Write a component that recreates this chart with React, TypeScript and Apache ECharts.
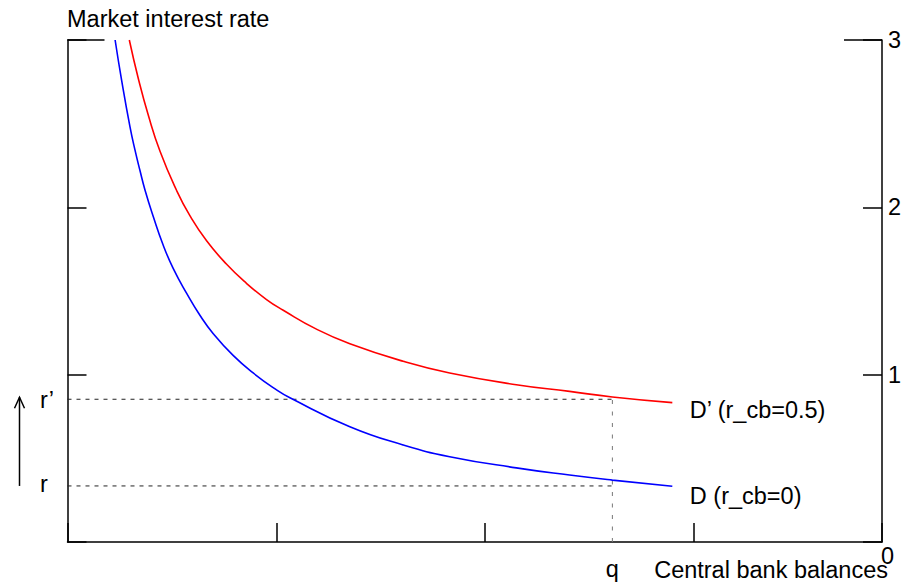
import React, { useEffect, useRef } from "react";
import * as echarts from "echarts";

const FONT = "'Liberation Sans', Arial, Helvetica, sans-serif";
const FS = 23.5;

// D curve (r_cb = 0)
const blueX = [0.228, 0.259, 0.299, 0.323, 0.347, 0.371, 0.411, 0.458, 0.506, 0.57, 0.634, 0.698, 0.793, 0.889, 1.001, 1.065, 1.352, 1.607, 1.83, 2.149, 2.404, 2.609, 2.896];
const blueY = [3.0, 2.76, 2.482, 2.343, 2.22, 2.104, 1.944, 1.775, 1.635, 1.487, 1.355, 1.245, 1.115, 1.01, 0.909, 0.862, 0.689, 0.58, 0.51, 0.443, 0.4, 0.37, 0.333];

// D' curve (r_cb = 0.5)
const redX = [0.296, 0.339, 0.387, 0.443, 0.522, 0.586, 0.666, 0.762, 0.857, 0.953, 1.033, 1.192, 1.352, 1.607, 1.83, 2.149, 2.404, 2.609, 2.896];
const redY = [3.0, 2.77, 2.55, 2.335, 2.102, 1.95, 1.8, 1.66, 1.546, 1.449, 1.385, 1.272, 1.185, 1.08, 1.01, 0.94, 0.9, 0.867, 0.833];

const rValue = 0.335;
const rPrimeValue = 0.853;
const qValue = 2.609;

const xMin = 0;
const xMax = 3.9;
const xInterval = 1;
const yMin = 0;
const yMax = 3;
const yInterval = 1;
const yTicks = [0, 1, 2, 3];
const yTickLabels = ["0", "1", "2", "3"];

const yAxisTitle = "Market interest rate";
const xAxisTitle = "Central bank balances";
const curveLabels = ["D (r_cb=0)", "D\u2019 (r_cb=0.5)"];
const levelLabels = ["r", "r\u2019"];
const qLabel = "q";

function txt(text: string, x: number, y: number, align: string, vAlign = "middle") {
  return {
    type: "text",
    silent: true,
    style: {
      text,
      x,
      y,
      fill: "#000",
      fontSize: FS,
      fontFamily: FONT,
      align,
      textAlign: align,
      verticalAlign: vAlign,
      textVerticalAlign: vAlign,
    },
  };
}

export default function App() {
  const ref = useRef<HTMLDivElement>(null);

  useEffect(() => {
    const chart = echarts.init(ref.current!, null, { renderer: "svg" });
    const axisLine = { show: true, lineStyle: { color: "#000", width: 1.5 } };
    const axisTick = { show: true, inside: true, length: 19, lineStyle: { color: "#000", width: 1.5 } };
    const zip = (xs: number[], ys: number[]) => xs.map((x, i) => [x, ys[i]]);
    const dotted = (data: number[][], color: string, dash: number[]) => ({
      type: "line",
      data,
      showSymbol: false,
      silent: true,
      z: 1,
      lineStyle: { color, width: 1, type: dash },
    });

    chart.setOption({
      animation: false,
      grid: { left: 67.5, right: 37, top: 40, bottom: 43 },
      xAxis: {
        type: "value",
        min: xMin,
        max: xMax,
        interval: xInterval,
        axisLine,
        axisTick,
        axisLabel: { show: false },
        splitLine: { show: false },
      },
      yAxis: [
        {
          type: "value",
          position: "left",
          min: yMin,
          max: yMax,
          interval: yInterval,
          axisLine,
          axisTick,
          axisLabel: { show: false },
          splitLine: { show: false },
        },
        {
          type: "value",
          position: "right",
          min: yMin,
          max: yMax,
          interval: yInterval,
          axisLine,
          axisTick,
          splitLine: { show: false },
          axisLabel: {
            show: true,
            margin: 6,
            color: "#000",
            fontSize: FS,
            fontFamily: FONT,
            verticalAlign: "middle",
            padding: [10, 0, 0, 0],
            formatter: (v: number) => (v === yTicks[0] ? "" : yTickLabels[yTicks.indexOf(v)]),
          },
        },
      ],
      series: [
        dotted([[xMin, rValue], [qValue, rValue]], "#222", [4, 5]),
        dotted([[xMin, rPrimeValue], [qValue, rPrimeValue]], "#222", [4, 5]),
        dotted([[qValue, yMin], [qValue, rPrimeValue]], "#777", [4, 7.5]),
        {
          type: "line",
          data: zip(blueX, blueY),
          showSymbol: false,
          smooth: 0.5,
          z: 3,
          lineStyle: { color: "#0000ff", width: 1.6 },
        },
        {
          type: "line",
          data: zip(redX, redY),
          showSymbol: false,
          smooth: 0.5,
          z: 3,
          lineStyle: { color: "#ff0000", width: 1.6 },
        },
      ],
    });

    const px = (x: number, y: number) =>
      chart.convertToPixel({ xAxisIndex: 0, yAxisIndex: 0 }, [x, y]) as number[];

    const topLeft = px(xMin, yMax);
    const topRight = px(xMax, yMax);
    const origin = px(xMin, yMin);
    const bottomRight = px(xMax, yMin);
    const rPix = px(xMin, rValue);
    const rpPix = px(xMin, rPrimeValue);
    const qPix = px(qValue, yMin);
    const blueEnd = px(blueX[blueX.length - 1], blueY[blueY.length - 1]);
    const redEnd = px(redX[redX.length - 1], redY[redY.length - 1]);
    const arrowX = 19.5;

    chart.setOption({
      graphic: [
        {
          type: "line",
          silent: true,
          shape: { x1: topLeft[0], y1: topLeft[1], x2: topLeft[0] + 37, y2: topLeft[1] },
          style: { stroke: "#000", lineWidth: 1.5 },
        },
        {
          type: "line",
          silent: true,
          shape: { x1: topRight[0] - 38, y1: topRight[1], x2: topRight[0], y2: topRight[1] },
          style: { stroke: "#000", lineWidth: 1.5 },
        },
        {
          type: "line",
          silent: true,
          shape: { x1: arrowX, y1: rPix[1], x2: arrowX, y2: rpPix[1] - 2 },
          style: { stroke: "#000", lineWidth: 1.5 },
        },
        {
          type: "polyline",
          silent: true,
          shape: { points: [[arrowX - 5, rpPix[1] + 9], [arrowX, rpPix[1] - 2], [arrowX + 5, rpPix[1] + 9]] },
          style: { stroke: "#000", lineWidth: 1.5, fill: "none" },
        },
        txt(yAxisTitle, origin[0] - 0.5, 19, "left"),
        txt(xAxisTitle, bottomRight[0] + 6, origin[1] + 28, "right"),
        txt(qLabel, qPix[0], qPix[1] + 27, "center"),
        txt(yTickLabels[0], bottomRight[0] - 1, bottomRight[1] + 14, "left"),
        txt(levelLabels[0], 40, rPix[1] - 2, "left"),
        txt(levelLabels[1], 40, rpPix[1] + 1, "left"),
        txt(curveLabels[0], blueEnd[0] + 17.5, blueEnd[1] + 9.5, "left"),
        txt(curveLabels[1], redEnd[0] + 17.5, redEnd[1] + 7.5, "left"),
      ],
    });

    return () => chart.dispose();
  }, []);

  return (
    <div
      ref={ref}
      style={{ position: "fixed", left: 0, top: 0, width: 919, height: 585, background: "#fff" }}
    />
  );
}
